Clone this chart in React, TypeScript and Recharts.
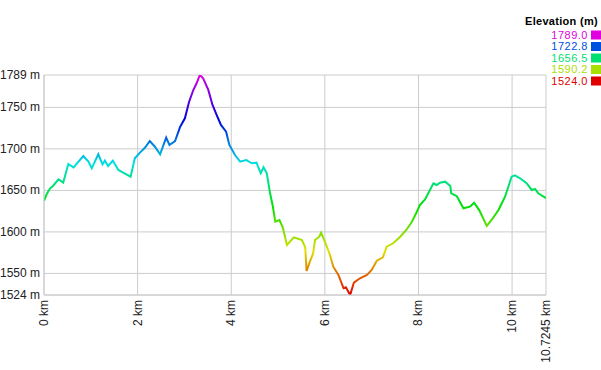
import React from "react";
import { LineChart, Line, XAxis, YAxis, CartesianGrid } from "recharts";

const distKm = [
  0.0, 0.06, 0.13, 0.19, 0.31, 0.41, 0.52, 0.63, 0.84, 0.95, 1.02, 1.16, 1.25, 1.3, 1.37, 1.47, 1.59, 1.69,
  1.85, 1.94, 2.05, 2.16, 2.26, 2.37, 2.48, 2.61, 2.68, 2.8, 2.91, 3.01, 3.1, 3.19, 3.26, 3.33, 3.4, 3.51,
  3.6, 3.69, 3.78, 3.89, 3.96, 4.08, 4.19, 4.32, 4.44, 4.54, 4.63, 4.69, 4.76, 4.83, 4.89, 4.94, 5.03, 5.1,
  5.19, 5.34, 5.51, 5.58, 5.61, 5.68, 5.75, 5.79, 5.88, 5.92, 6.0, 6.11, 6.18, 6.29, 6.4, 6.45, 6.54, 6.62,
  6.75, 6.9, 7.0, 7.11, 7.24, 7.32, 7.46, 7.61, 7.74, 7.86, 7.95, 8.03, 8.14, 8.32, 8.39, 8.46, 8.57, 8.68,
  8.7, 8.82, 8.96, 9.1, 9.19, 9.3, 9.46, 9.57, 9.71, 9.85, 9.99, 10.06, 10.17, 10.31, 10.42, 10.49, 10.56,
  10.7245,
];

const elevM = [
  1637.5, 1645.7, 1652.5, 1655.3, 1663.4, 1659.3, 1681.8, 1677.8, 1691.4, 1684.6, 1676.6, 1693.5, 1681.4,
  1685.8, 1679.4, 1685.8, 1674.6, 1671.3, 1666.5, 1688.7, 1695.5, 1701.7, 1709.5, 1702.6, 1693.5, 1713.5,
  1704.7, 1709.5, 1726.7, 1736.8, 1756.8, 1770.9, 1779.0, 1789.0, 1785.0, 1771.0, 1752.9, 1740.8, 1728.8,
  1720.7, 1704.7, 1692.6, 1684.6, 1686.6, 1682.6, 1683.4, 1670.6, 1677.8, 1670.6, 1646.5, 1630.4, 1612.3,
  1614.3, 1605.5, 1584.2, 1593.5, 1590.2, 1581.5, 1552.9, 1564.1, 1574.2, 1590.2, 1594.2, 1599.1, 1588.2,
  1572.2, 1558.1, 1548.1, 1532.1, 1533.3, 1524.0, 1538.8, 1544.1, 1548.1, 1554.1, 1565.3, 1569.4, 1582.2,
  1586.3, 1594.2, 1602.3, 1612.3, 1622.4, 1632.4, 1639.2, 1658.6, 1656.5, 1659.3, 1660.5, 1655.3, 1646.5,
  1643.0, 1628.4, 1630.4, 1635.2, 1626.0, 1607.3, 1615.0, 1626.4, 1642.4, 1666.5, 1668.2, 1664.6, 1658.6,
  1650.5, 1651.7, 1646.5, 1640.5,
];

const xTicks = [0, 2, 4, 6, 8, 10, 10.7245];
const yTicks = [1524, 1550, 1600, 1650, 1700, 1750, 1789];

const legendTitle = "Elevation (m)";
const legendValues = ["1789.0", "1722.8", "1656.5", "1590.2", "1524.0"];
const legendColors = ["#e000e0", "#0050e0", "#00e070", "#a8e000", "#e00000"];

const gradientStops = [
  { o: 0, c: "hsl(300,100%,44%)" },
  { o: 0.1, c: "hsl(270,100%,44%)" },
  { o: 0.2, c: "hsl(240,100%,44%)" },
  { o: 0.3, c: "hsl(210,100%,44%)" },
  { o: 0.4, c: "hsl(180,100%,44%)" },
  { o: 0.5, c: "hsl(150,100%,44%)" },
  { o: 0.6, c: "hsl(120,100%,44%)" },
  { o: 0.7, c: "hsl(90,100%,44%)" },
  { o: 0.8, c: "hsl(60,100%,44%)" },
  { o: 0.9, c: "hsl(30,100%,44%)" },
  { o: 1, c: "hsl(0,100%,44%)" },
];

const data = distKm.map((km, i) => ({ km, elev: elevM[i] }));

const FONT = "'Liberation Sans', Arial, sans-serif";

const XTick = (props: any) => {
  const { x, y, payload } = props;
  return (
    <text
      x={x + 4}
      y={y + 5}
      transform={`rotate(-90, ${x + 4}, ${y + 5})`}
      textAnchor="end"
      fontSize={12}
      fontFamily={FONT}
      fill="#222"
    >
      {`${payload.value} km`}
    </text>
  );
};

const YTick = (props: any) => {
  const { x, y, payload } = props;
  return (
    <text x={x} y={y + 4} textAnchor="end" fontSize={12} fontFamily={FONT} fill="#222">
      {`${payload.value} m`}
    </text>
  );
};

export default function App() {
  return (
    <div style={{ position: "absolute", left: 0, top: 0, width: 601, height: 370, background: "#fff" }}>
      <LineChart
        width={601}
        height={370}
        data={data}
        margin={{ top: 75, right: 55, bottom: 0, left: 0 }}
      >
        <defs>
          <linearGradient id="elevGrad" x1="0" y1="0" x2="0" y2="1">
            {gradientStops.map((s) => (
              <stop key={s.o} offset={s.o} stopColor={s.c} />
            ))}
          </linearGradient>
        </defs>
        <CartesianGrid stroke="#cccccc" />
        <XAxis
          dataKey="km"
          type="number"
          domain={[0, 10.7245]}
          ticks={xTicks}
          interval={0}
          height={75}
          tickLine={false}
          tickSize={0}
          tickMargin={0}
          axisLine={{ stroke: "#cccccc" }}
          tick={<XTick />}
          allowDataOverflow
        />
        <YAxis
          dataKey="elev"
          type="number"
          domain={[1524, 1789]}
          ticks={yTicks}
          interval={0}
          width={44}
          tickLine={false}
          tickSize={2}
          tickMargin={2}
          axisLine={{ stroke: "#cccccc" }}
          tick={<YTick />}
          allowDataOverflow
        />
        <Line
          type="linear"
          dataKey="elev"
          stroke="url(#elevGrad)"
          strokeWidth={2}
          dot={false}
          activeDot={false}
          isAnimationActive={false}
        />
      </LineChart>
      <svg
        width={601}
        height={100}
        style={{ position: "absolute", left: 0, top: 0, pointerEvents: "none" }}
      >
        <text
          x={598}
          y={25}
          textAnchor="end"
          fontSize={11}
          fontWeight="bold"
          fontFamily={FONT}
          fill="#000"
          letterSpacing={0.3}
        >
          {legendTitle}
        </text>
        {legendValues.map((v, i) => (
          <g key={v}>
            <text
              x={588}
              y={38.5 + i * 11.5}
              textAnchor="end"
              fontSize={11}
              fontFamily={FONT}
              fill={legendColors[i]}
              letterSpacing={0.5}
            >
              {v}
            </text>
            <rect x={591} y={30.5 + i * 11.5} width={10} height={9} fill={legendColors[i]} />
          </g>
        ))}
      </svg>
    </div>
  );
}
